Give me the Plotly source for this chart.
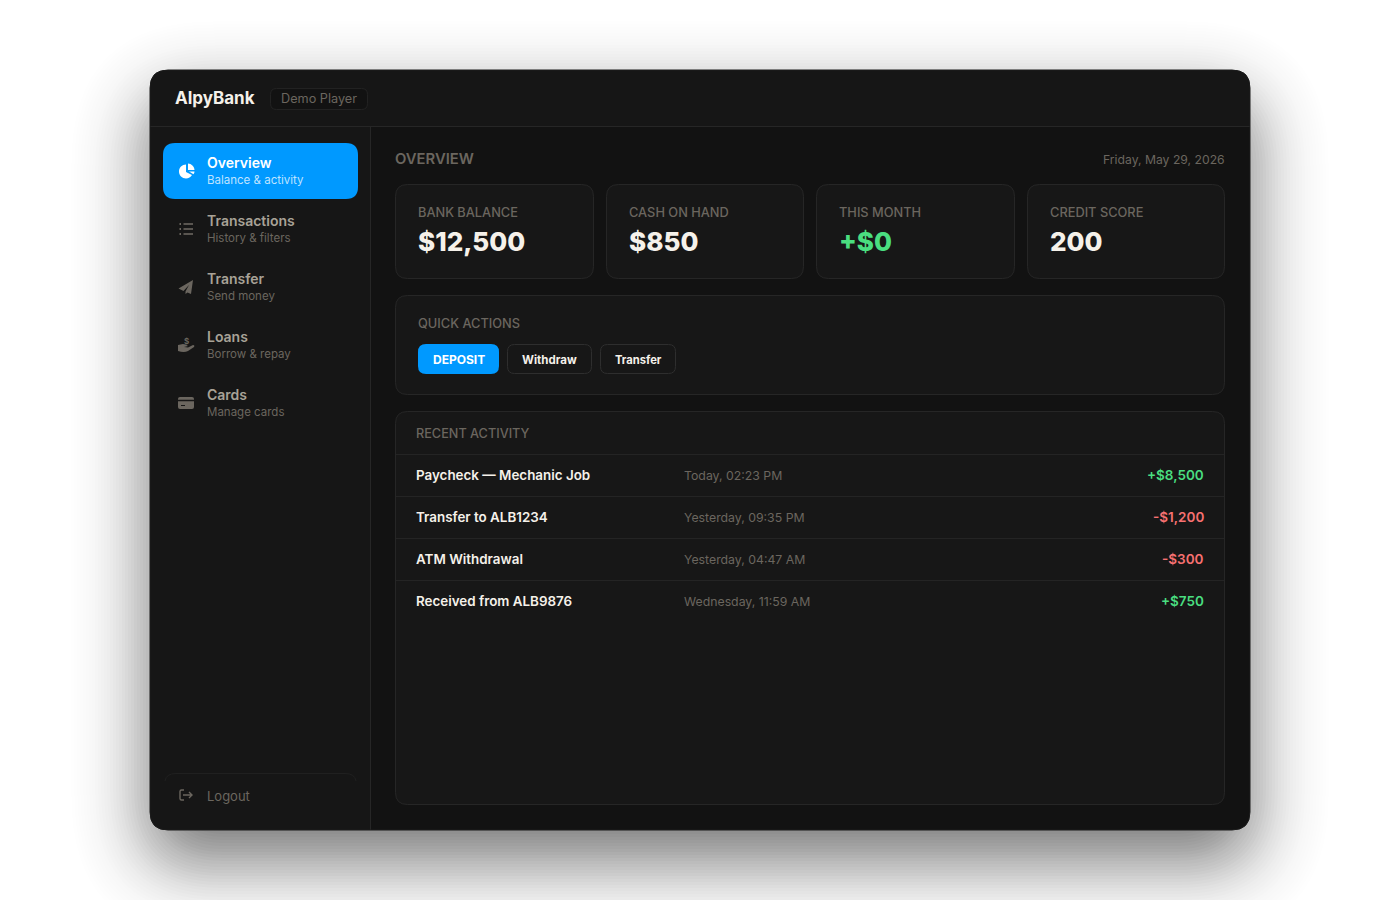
import math
import plotly.graph_objects as go

# contenu de l'ecran
brand = "AlpyBank"
badge = "Demo Player"
nav_titles = ["Overview", "Transactions", "Transfer", "Loans", "Cards"]
nav_subs = ["Balance & activity", "History & filters", "Send money", "Borrow & repay", "Manage cards"]
card_labels = ["BANK BALANCE", "CASH ON HAND", "THIS MONTH", "CREDIT SCORE"]
card_texts = ["$12,500", "$850", "+$0", "200"]
actions = ["DEPOSIT", "Withdraw", "Transfer"]
activity_names = ["Paycheck — Mechanic Job", "Transfer to ALB1234", "ATM Withdrawal", "Received from ALB9876"]
activity_times = ["Today, 02:23 PM", "Yesterday, 09:35 PM", "Yesterday, 04:47 AM", "Wednesday, 11:59 AM"]
activity_amounts = [8500, -1200, -300, 750]

FONT = "Inter"
CREAM = "#f5f1ea"
MUTED = "#6b665f"
NAV = "#a8a297"
BLUE = "#0099ff"
GREEN = "#4ade80"
RED = "#f87171"
BORDER = "#262626"
PANEL = "#171717"

shapes = []
notes = []


def rrect(x0, y0, x1, y1, r):
    return (f"M{x0+r},{y0} L{x1-r},{y0} Q{x1},{y0} {x1},{y0+r} L{x1},{y1-r} Q{x1},{y1} {x1-r},{y1} "
            f"L{x0+r},{y1} Q{x0},{y1} {x0},{y1-r} L{x0},{y0+r} Q{x0},{y0} {x0+r},{y0} Z")


def box(x0, y0, x1, y1, r, fill, line=None, width=1):
    shapes.append(dict(type="path", path=rrect(x0, y0, x1, y1, r), fillcolor=fill,
                       line=dict(color=line or "rgba(0,0,0,0)", width=width if line else 0)))


def path(d, fill=None, line=None, width=1.5):
    shapes.append(dict(type="path", path=d, fillcolor=fill or "rgba(0,0,0,0)",
                       line=dict(color=line or "rgba(0,0,0,0)", width=width if line else 0)))


def text(x, y, s, size, color, weight=400, anchor="left"):
    notes.append(dict(x=x, y=y, text=s, showarrow=False, xanchor=anchor, yanchor="middle",
                      borderpad=0, borderwidth=0,
                      font=dict(family=FONT, size=size, color=color, weight=weight)))


# ombre de la fenetre : flou gaussien approche par couches
SHADOW_A, SHADOW_S, SHADOW_DY = 0.55, 40, 30


def shadow_alpha(d):
    return SHADOW_A * 0.5 * (1 - math.erf(d / (SHADOW_S * math.sqrt(2))))


e = 100
while e > -36:
    outer, inner = shadow_alpha(e + 3), shadow_alpha(e)
    a = 1 - (1 - inner) / (1 - outer)
    box(150 - e, 70 + SHADOW_DY - e, 1250 + e, 830 + SHADOW_DY + e, 18 + max(e + 60, 0) * 0.9, f"rgba(0,0,0,{a:.4f})")
    e -= 3

# fenetre
box(150, 70, 1250, 830, 18, "#121212")
path("M168,70 L1232,70 Q1250,70 1250,88 L1250,126.5 L150,126.5 L150,88 Q150,70 168,70 Z", fill="#161616")
path("M150,127 L370.5,127 L370.5,830 L168,830 Q150,830 150,812 Z", fill="#161616")
path("M150,126.5 L1250,126.5", line="#262626", width=1)
path("M370.5,127 L370.5,830", line="#262626", width=1)
box(150, 70, 1250, 830, 18, "rgba(0,0,0,0)", "#1c1c1c")

text(175, 98, brand, 17, CREAM, 700)
box(270.5, 88.5, 367.5, 109.5, 6, "#121212", "#222222")
text(281, 98.5, badge, 12.7, MUTED)

# barre laterale
box(163, 143, 358, 199, 12, BLUE)
for i, (t, s) in enumerate(zip(nav_titles, nav_subs)):
    y = 162.5 + 58 * i
    text(207, y, t, 14, "#ffffff" if i == 0 else NAV, 600)
    text(207, y + 17.5, s, 11.5, "#bfe3ff" if i == 0 else MUTED)

# icones
path("M186,164.5 C182.1,164.5 179,167.6 179,171.5 C179,175.4 182.1,178.5 186,178.5 C188.5,178.5 190.7,177.2 192,175 L186,172 Z", fill="#ffffff")
path("M188,163.5 C191.3,163.5 194.3,166.5 194.5,170 L188,170 Z", fill="#ffffff")
path("M189,171.5 L194.5,171.5 C194.5,172.5 194,173.5 193.5,174.2 Z", fill="#ffffff")
for k in range(3):
    yy = 224 + 5 * k
    path(f"M179.5,{yy} L181,{yy}", line=MUTED, width=1.8)
    path(f"M183.5,{yy} L193,{yy}", line=MUTED, width=1.6)
path("M193,280 L178.5,288.5 L183.5,291 L189,285 L185.5,291.5 L185.5,294 L187.5,292.5 L191,294 Z", fill=MUTED)
path("M178,349 L178,345 L183,344 Q186,344 188,346 L184,347 L188,347.5 L193,345 Q195,345 194,347 L188,351 Q184,353 178,351 Z", fill=MUTED)
text(186, 341, "$", 8, MUTED, 700, "center")
box(178, 397, 194, 409, 2, MUTED)
path("M178,400.5 L194,400.5", line="#161616", width=1.5)
path("M181,405.5 L185,405.5", line="#161616", width=1)

path("M165,781 Q166,773.5 176,773.5 L345,773.5 Q355,773.5 356,781", line="#202020", width=1)
path("M184,790 L181.5,790 Q180,790 180,791.5 L180,798.5 Q180,800 181.5,800 L184,800", line=MUTED, width=1.4)
path("M183,795 L192,795 M189,792 L192,795 L189,798", line=MUTED, width=1.4)
text(207, 795.5, "Logout", 13, MUTED)

# zone principale
text(395, 159, "OVERVIEW", 14.8, MUTED, 600)
text(1225, 159.5, "Friday, May 29, 2026", 12.2, MUTED, 400, "right")

card_x = [(395.5, 593.5), (606.5, 803.5), (816.5, 1014.5), (1027.5, 1224.5)]
for (x0, x1), lab, txt in zip(card_x, card_labels, card_texts):
    box(x0, 184.5, x1, 278.5, 12, PANEL, BORDER)
    text(x0 + 22.5, 212, lab, 12.8, MUTED, 500)
    text(x0 + 22.5, 241, txt, 26, GREEN if lab == "THIS MONTH" else CREAM, 800)

box(395.5, 295.5, 1224.5, 394.5, 12, PANEL, BORDER)
text(418, 323, "QUICK ACTIONS", 12.8, MUTED, 500)
box(418, 344, 499, 374, 8, BLUE)
box(507.5, 344.5, 591.5, 373.5, 7, PANEL, "#2e2e2e")
box(600.5, 344.5, 675.5, 373.5, 7, PANEL, "#2e2e2e")
text(458.5, 359.5, actions[0], 12, "#ffffff", 700, "center")
text(549.5, 359.5, actions[1], 11.5, CREAM, 700, "center")
text(638, 359.5, actions[2], 11.2, CREAM, 700, "center")

box(395.5, 411.5, 1224.5, 804.5, 12, PANEL, BORDER)
text(416, 433, "RECENT ACTIVITY", 12.7, MUTED, 500)
for i in range(4):
    y = 454.5 + 42 * i
    path(f"M396,{y} L1224,{y}", line="#242424", width=1)
for i, (n, t, a) in enumerate(zip(activity_names, activity_times, activity_amounts)):
    y = 475 + 42 * i
    text(416, y, n, 13.4, CREAM, 600)
    text(684, y, t, 12.3, MUTED)
    label = f"+${a:,}" if a > 0 else f"-${-a:,}"
    text(1204, y, label, 13.5, GREEN if a > 0 else RED, 600, "right")

fig = go.Figure()
# la page garde une marge de 8 px autour du graphique
fig.update_layout(
    width=1392, height=892,
    margin=dict(l=0, r=0, t=0, b=0),
    paper_bgcolor="#ffffff", plot_bgcolor="#ffffff",
    xaxis=dict(range=[8, 1400], visible=False, fixedrange=True),
    yaxis=dict(range=[900, 8], visible=False, fixedrange=True),
    shapes=shapes, annotations=notes, showlegend=False,
)
fig.write_html("out.html")
